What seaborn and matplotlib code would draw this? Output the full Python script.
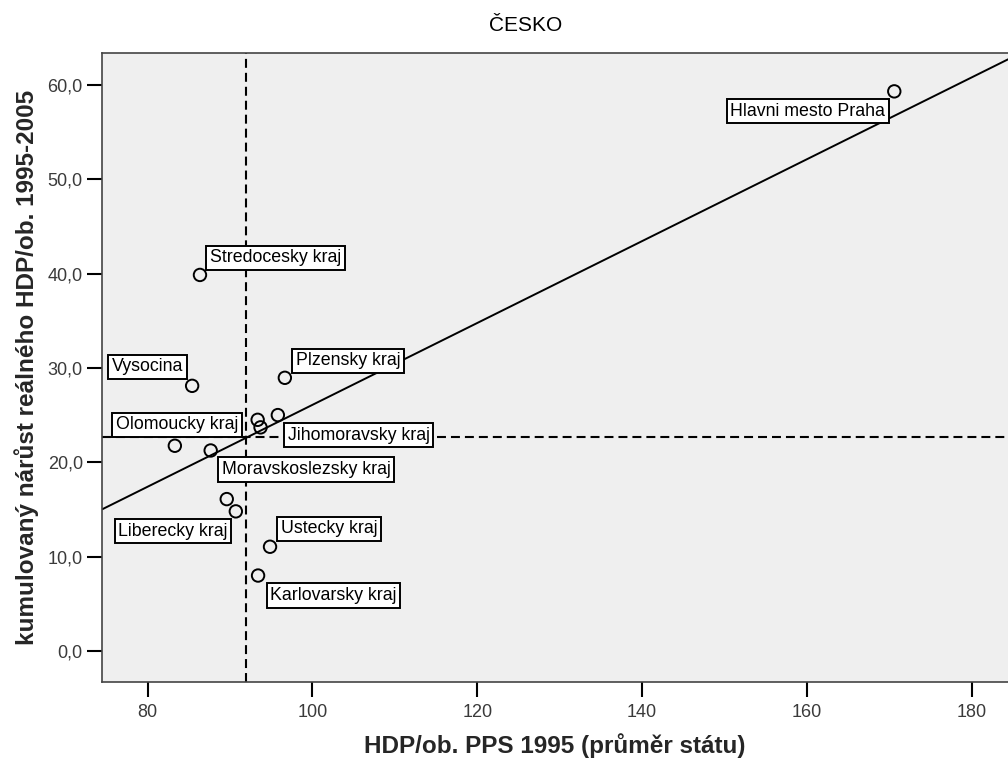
import numpy as np
import pandas as pd
import matplotlib
matplotlib.use("Agg")
import matplotlib.pyplot as plt
import seaborn as sns

# data (x = HDP/ob. PPS 1995, y = cumulative growth 1995-2005)
labels = ["Hlavni mesto Praha", "Stredocesky kraj", "Vysocina", "Plzensky kraj",
          "Jihomoravsky kraj", "", "", "Olomoucky kraj", "Moravskoslezsky kraj",
          "", "Liberecky kraj", "Ustecky kraj", "Karlovarsky kraj"]
hdp_1995 = [170.6, 86.35, 85.4, 96.65, 95.8, 93.35, 93.7, 83.3, 87.65, 89.6, 90.7, 94.85, 93.4]
growth = [59.3, 39.85, 28.1, 28.95, 25.0, 24.5, 23.7, 21.75, 21.25, 16.1, 14.8, 11.05, 8.0]

ref_x = 91.93
ref_y = 22.7
x_ticks = [80, 100, 120, 140, 160, 180]
y_ticks = [0, 10, 20, 30, 40, 50, 60]

df = pd.DataFrame({"label": labels, "hdp": hdp_1995, "growth": growth})

# label placement (pixels from the point: ha, dx, dy)
label_pos = {
    "Hlavni mesto Praha": ("right", -9, -20),
    "Stredocesky kraj": ("left", 10, 17),
    "Vysocina": ("right", -9, 19),
    "Plzensky kraj": ("left", 11, 17),
    "Jihomoravsky kraj": ("left", 10, -20),
    "Olomoucky kraj": ("center", 2, 21),
    "Moravskoslezsky kraj": ("left", 11, -19),
    "Liberecky kraj": ("right", -8, -20),
    "Ustecky kraj": ("left", 11, 18),
    "Karlovarsky kraj": ("left", 12, -20),
}

sns.set_style("white")
plt.rcParams["font.family"] = ["Liberation Sans", "DejaVu Sans"]

fig = plt.figure(figsize=(10.08, 7.6), dpi=100)
ax = fig.add_axes([0.1015, 0.103, 0.8985, 0.8277])
ax.set_facecolor("#efefef")

ax.set_xlim(74.5, 184.4)
ax.set_ylim(-3.25, 63.4)

ax.axvline(ref_x, color="black", lw=1.5, dashes=(4.3, 2.4), zorder=1)
ax.axhline(ref_y, color="black", lw=1.5, dashes=(4.3, 2.4), zorder=1)

sns.regplot(data=df, x="hdp", y="growth", ax=ax, scatter=False, ci=None,
            truncate=False, line_kws={"color": "black", "lw": 1.4, "zorder": 2})
sns.scatterplot(data=df, x="hdp", y="growth", ax=ax, marker="o", s=80,
                facecolors="none", edgecolor="black", linewidth=1.4, zorder=3)

ax.set_xlim(74.5, 184.4)
ax.set_ylim(-3.25, 63.4)

for _, r in df.iterrows():
    if not r["label"]:
        continue
    ha, dx, dy = label_pos[r["label"]]
    ax.annotate(r["label"], (r["hdp"], r["growth"]), xytext=(dx, dy),
                textcoords="offset pixels", ha=ha, va="center", fontsize=12.8,
                color="black", zorder=4,
                bbox=dict(boxstyle="square,pad=0.2", fc="white", ec="black", lw=1.4))

ax.set_xticks(x_ticks)
ax.set_yticks(y_ticks)
ax.set_yticklabels([f"{v:.1f}".replace(".", ",") for v in y_ticks])
ax.tick_params(axis="both", direction="out", length=11, width=1.5, color="black",
               labelsize=13, labelcolor="#3a3a3a", bottom=True, left=True)
ax.tick_params(axis="x", pad=5)
ax.tick_params(axis="y", pad=3)

for side in ["left", "bottom", "top"]:
    ax.spines[side].set_color("#444444")
    ax.spines[side].set_linewidth(1.2)
ax.spines["right"].set_visible(False)

ax.set_xlabel("HDP/ob. PPS 1995 (průměr státu)", fontsize=17.5, fontweight="bold",
              labelpad=9)
ax.set_ylabel("kumulovaný nárůst reálného HDP/ob. 1995-2005", fontsize=17.5,
              fontweight="bold", labelpad=6)

fig.text(0.521, 0.966, "ČESKO", ha="center", va="center", fontsize=15, color="black")

fig.savefig("out.png", dpi=100)
